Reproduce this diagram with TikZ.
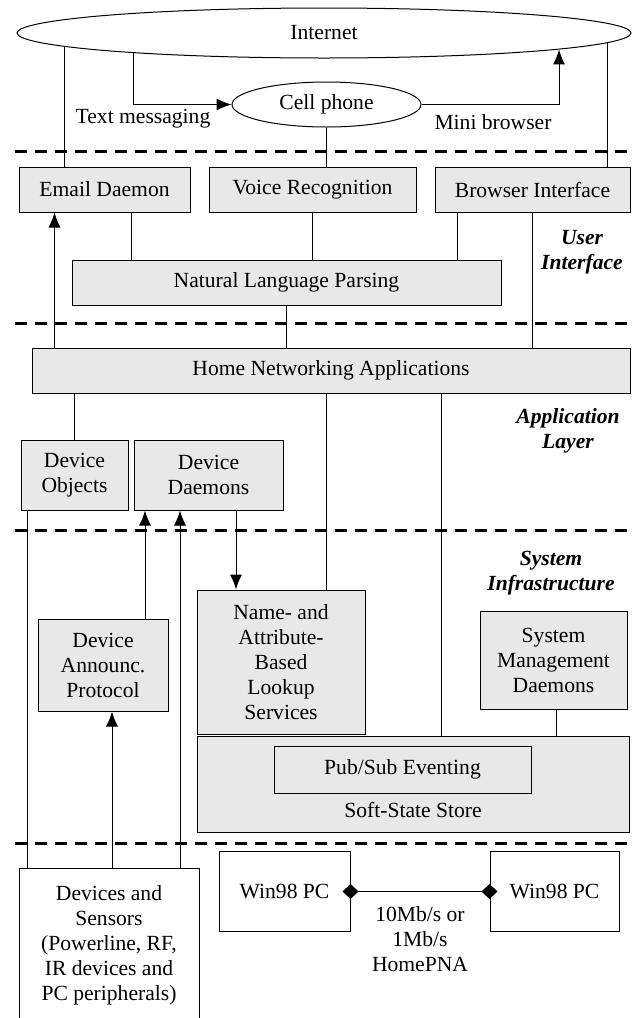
\documentclass[tikz,border=0pt]{standalone}
\usepackage{fontspec}
\setmainfont{Liberation Serif}
\usetikzlibrary{positioning,calc,arrows.meta,shapes.geometric}
\tikzset{%
  gbox/.style = {
    draw = black,
    fill = #1,
    line width = 0.5pt,
    align = center,
    inner sep = 2pt,
  },
  gbox/.default = {gray!18},
  oval/.style = {
    ellipse,
    draw = black,
    fill = white,
    line width = 0.5pt,
    inner sep = 0pt,
  },
  arrow/.style = {
    -{Latex[length=7.5pt,width=6pt]},
    line width = 0.5pt,
  },
  link/.style = {
    line width = 0.5pt,
  },
  divide/.style = {
    line width = 1.5pt,
    dash pattern = on 6pt off 4pt,
  },
  layername/.style = {
    font = \fontsize{10.8}{12.5}\selectfont\bfseries\itshape,
    align = center,
  },
}

\begin{document}
\begin{tikzpicture}[
    x = 0.5pt,
    y = -0.5pt,
    font = \fontsize{10.8}{12.5}\selectfont,
  ]
  \useasboundingbox (0,0) rectangle (633,1018);

  \foreach \y in {151.7, 323, 530, 843}
    \draw[divide] (15,\y) -- (633,\y);

  % outside world
  \node[oval, minimum width=307pt, minimum height=25pt] (internet) at (324,33) {Internet};
  \node[oval, minimum width=94.5pt, minimum height=22.5pt] (cell) at (326.5,104.5) {Cell phone};
  \node (txtmsg) at (143,119) {Text messaging};
  \node (minibr) at (493,122) {Mini browser};

  % user interface
  \node[gbox, minimum width=85.5pt, minimum height=22.5pt] (email) at (104.5,189.5) {Email Daemon};
  \node[gbox, minimum width=103.5pt, minimum height=22.5pt] (voice) at (312.5,189.5) {Voice Recognition};
  \node[gbox, minimum width=97.5pt, minimum height=22.5pt] (browser) at (532.5,189.5) {Browser Interface};
  \node[gbox, minimum width=214.5pt, minimum height=22.5pt] (nlp) at (286.5,282.5) {Natural Language Parsing};
  \node[layername] (uilbl) at (582,252.5) {User\\Interface};

  % application layer
  \node[gbox, minimum width=299pt, minimum height=22.5pt] (hna) at (331,370.5) {Home Networking Applications};
  \node[gbox, minimum width=53.5pt, minimum height=35pt] (devobj) at (74.5,475) {Device\\Objects};
  \node[gbox, minimum width=74.5pt, minimum height=35pt] (devdmn) at (208.5,475) {Device\\Daemons};
  \node[layername] (applbl) at (568,430.5) {Application\\Layer};

  % system infrastructure
  \node[layername] (syslbl) at (551,573.5) {System\\Infrastructure};
  \node[gbox, minimum width=65pt, minimum height=46pt] (announce) at (103,665) {Device\\Announc.\\Protocol};
  \node[gbox, minimum width=84pt, minimum height=72pt] (lookup) at (281,662) {Name- and\\Attribute-\\Based\\Lookup\\Services};
  \node[gbox, minimum width=73.5pt, minimum height=49pt] (sysmgmt) at (553.5,660) {System\\Management\\Daemons};
  \node[gbox, minimum width=216pt, minimum height=48pt,
        label={[anchor=south, yshift=4pt]south:Soft-State Store}] (store) at (413,784) {};
  \node[gbox, minimum width=128.5pt, minimum height=23.5pt] (pubsub) at (402.5,769.5) {Pub/Sub Eventing};

  % hardware
  \node[gbox=white, minimum width=90pt, minimum height=77pt] (devices) at (109,945)
    {Devices and\\Sensors\\(Powerline, RF,\\IR devices and\\PC peripherals)};
  \node[gbox=white, minimum width=65.5pt, minimum height=40pt] (pcA) at (284.5,891.5) {Win98 PC};
  \node[gbox=white, minimum width=64.5pt, minimum height=40pt] (pcB) at (554.5,891.5) {Win98 PC};

  % links to the internet
  \draw[arrow] (internet.-174.81) |- (cell.west);
  \draw[arrow] (cell.east) -| (internet.-4.66);
  \draw[link] (cell.south) -- (cell.south |- voice.north);
  \draw[link] (internet.-177.46) -- (internet.-177.46 |- email.north);
  \draw[link] (internet.-2.48) -- (internet.-2.48 |- browser.north);

  % user interface links
  \draw[link] ([xshift=13.25pt]email.south) -- ([xshift=-77.75pt]nlp.north);
  \draw[link] (voice.south) -- ([xshift=13pt]nlp.north);
  \draw[link] ([xshift=-37.75pt]browser.south) -- ([xshift=85.25pt]nlp.north);
  \draw[link] (nlp.south) -- ([xshift=-22.25pt]hna.north);
  \draw[link] (browser.south) -- ([xshift=100.75pt]hna.north);
  \draw[arrow] ([xshift=-138.25pt]hna.north) -- ([xshift=-25pt]email.south);

  % application links
  \draw[link] ([xshift=-128.25pt]hna.south) -- (devobj.north);
  \draw[link] ([xshift=-2.5pt]hna.south) -- ([xshift=22.5pt]lookup.north);
  \draw[link] ([xshift=55pt]hna.south) -- ([xshift=14pt]store.north);

  % system links
  \draw[arrow] ([xshift=13.75pt]devdmn.south) -- ([xshift=-22.5pt]lookup.north);
  \draw[arrow] ([xshift=21pt]announce.north) -- ([xshift=-31.75pt]devdmn.south);
  \draw[arrow] ([xshift=35.5pt]devices.north) -- ([xshift=-14.25pt]devdmn.south);
  \draw[arrow] ([xshift=1.5pt]devices.north) -- ([xshift=4.5pt]announce.south);
  \draw[link] ([xshift=-23.5pt]devobj.south) -- ([xshift=-40.75pt]devices.north);
  \draw[link] ([xshift=1.25pt]sysmgmt.south) -- ([xshift=71.5pt]store.north);

  % home network
  \draw[link, {Diamond[length=8pt,width=7.5pt]}-{Diamond[length=8pt,width=7.5pt]},
        shorten <=-4pt, shorten >=-4pt]
    (pcA.east) -- node[below=4pt, align=center] (speed) {10Mb/s or\\1Mb/s\\HomePNA} (pcB.west);
\end{tikzpicture}
\end{document}
